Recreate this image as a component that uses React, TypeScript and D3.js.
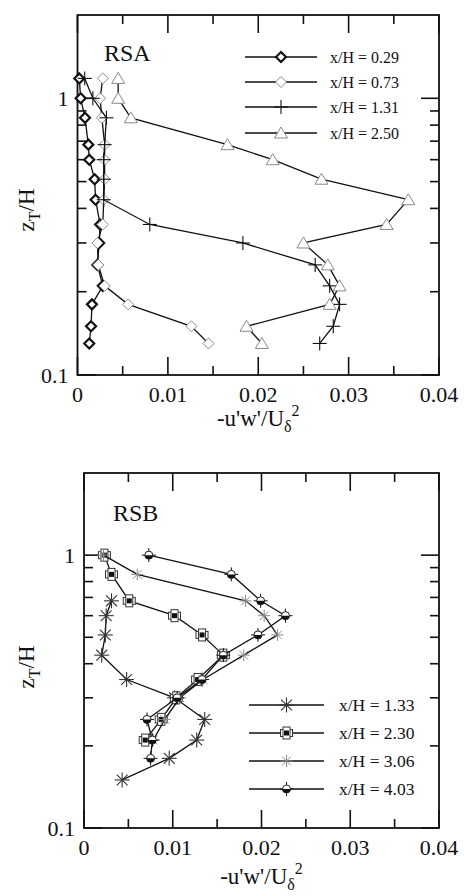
import React from 'react';
import * as d3 from 'd3';

const FONT = "'Liberation Serif', 'Times New Roman', Times, serif";

// ---------- Data: panel RSA ----------
const zA = [1.18, 1.0, 0.85, 0.68, 0.6, 0.51, 0.43, 0.35, 0.3, 0.25, 0.21, 0.18, 0.15, 0.13];
const rsa029 = [0.0002, 0.00035, 0.00083, 0.0012, 0.0013, 0.0019, 0.002, 0.0025, 0.0024, 0.0022, 0.0028, 0.0016, 0.0015, 0.0013];
const rsa073 = [0.0028, 0.0025, 0.0027, 0.003, 0.003, 0.003, 0.0029, 0.0028, 0.0022, 0.0023, 0.003, 0.0056, 0.0126, 0.0145];
const rsa131 = [0.0008, 0.0017, 0.0032, 0.003, 0.0029, 0.0029, 0.0029, 0.008, 0.0183, 0.0263, 0.0279, 0.029, 0.0283, 0.0268];
const rsa250 = [0.0045, 0.0045, 0.0059, 0.0166, 0.0216, 0.027, 0.0366, 0.0342, 0.025, 0.0277, 0.029, 0.0279, 0.0187, 0.0204];
const legendA = ['x/H = 0.29', 'x/H = 0.73', 'x/H = 1.31', 'x/H = 2.50'];

// ---------- Data: panel RSB ----------
const zB133 = [0.68, 0.6, 0.51, 0.43, 0.35, 0.3, 0.25, 0.21, 0.18, 0.15];
const rsb133 = [0.0031, 0.0025, 0.0024, 0.002, 0.0048, 0.0102, 0.0136, 0.0127, 0.0096, 0.0043];
const zB230 = [1.0, 0.85, 0.68, 0.6, 0.51, 0.43, 0.35, 0.3, 0.25, 0.21];
const rsb230 = [0.0023, 0.0031, 0.0051, 0.0102, 0.0133, 0.0157, 0.0128, 0.0104, 0.0087, 0.0069];
const zB306 = [1.0, 0.85, 0.68, 0.6, 0.51, 0.43, 0.35, 0.3, 0.25, 0.21];
const rsb306 = [0.0022, 0.006, 0.0182, 0.0203, 0.0218, 0.018, 0.0134, 0.0108, 0.0091, 0.0078];
const zB403 = [1.0, 0.85, 0.68, 0.6, 0.51, 0.43, 0.35, 0.3, 0.25, 0.21, 0.18];
const rsb403 = [0.0073, 0.0166, 0.0199, 0.0227, 0.0196, 0.0157, 0.0133, 0.0105, 0.0071, 0.0077, 0.0075];
const legendB = ['x/H = 1.33', 'x/H = 2.30', 'x/H = 3.06', 'x/H = 4.03'];

// ---------- Axes ----------
const xMajor = [0, 0.01, 0.02, 0.03, 0.04];
const xMajorLabels = ['0', '0.01', '0.02', '0.03', '0.04'];
const xMinor = [0.005, 0.015, 0.025, 0.035];
const yMajor = [0.1, 1];
const yMajorLabels = ['0.1', '1'];
const yMinor = [0.2, 0.3, 0.4, 0.5, 0.6, 0.7, 0.8, 0.9];

const GRAY = '#8a8a8a';

type MarkerFn = (cx: number, cy: number, key: string) => React.ReactNode;

const boldDiamond: MarkerFn = (cx, cy, k) => (
  <path key={k} d={`M${cx},${cy - 5}L${cx + 5},${cy}L${cx},${cy + 5}L${cx - 5},${cy}Z`} fill="white" stroke="#111" strokeWidth={2.2} />
);
const openDiamond: MarkerFn = (cx, cy, k) => (
  <path key={k} d={`M${cx},${cy - 5.5}L${cx + 5.5},${cy}L${cx},${cy + 5.5}L${cx - 5.5},${cy}Z`} fill="white" stroke={GRAY} strokeWidth={1} />
);
const plusMark: MarkerFn = (cx, cy, k) => (
  <g key={k} stroke="#111" strokeWidth={1.1}>
    <line x1={cx - 7} x2={cx + 7} y1={cy} y2={cy} />
    <line x1={cx} x2={cx} y1={cy - 7} y2={cy + 7} />
  </g>
);
const triangle: MarkerFn = (cx, cy, k) => (
  <path key={k} d={`M${cx},${cy - 6}L${cx + 6.5},${cy + 5}L${cx - 6.5},${cy + 5}Z`} fill="white" stroke={GRAY} strokeWidth={1} />
);
const asterisk = (color: string, r: number, w: number): MarkerFn => (cx, cy, k) => {
  const d = r * 0.72;
  return (
    <g key={k} stroke={color} strokeWidth={w}>
      <line x1={cx - r} x2={cx + r} y1={cy} y2={cy} />
      <line x1={cx} x2={cx} y1={cy - r} y2={cy + r} />
      <line x1={cx - d} x2={cx + d} y1={cy - d} y2={cy + d} />
      <line x1={cx - d} x2={cx + d} y1={cy + d} y2={cy - d} />
    </g>
  );
};
const crossSquare: MarkerFn = (cx, cy, k) => (
  <g key={k}>
    <rect x={cx - 6} y={cy - 3.5} width={12} height={7} fill="white" stroke="#333" strokeWidth={1} />
    <rect x={cx - 3.5} y={cy - 6} width={7} height={12} fill="white" stroke="#333" strokeWidth={1} />
    <rect x={cx - 2.5} y={cy - 2.5} width={5} height={5} fill="#111" />
  </g>
);
const halfCircle: MarkerFn = (cx, cy, k) => (
  <g key={k}>
    <line x1={cx - 7} x2={cx + 7} y1={cy} y2={cy} stroke="#111" strokeWidth={1} />
    <line x1={cx} x2={cx} y1={cy - 7} y2={cy + 7} stroke="#111" strokeWidth={1} />
    <circle cx={cx} cy={cy} r={4} fill="white" stroke="#222" strokeWidth={1} />
    <path d={`M${cx - 4},${cy}A4,4 0 0 0 ${cx + 4},${cy}Z`} fill="#111" />
  </g>
);

type Series = { xs: number[]; zs: number[]; marker: MarkerFn; lineColor: string; legendMarker: MarkerFn };

type PanelProps = {
  id: string;
  left: number; right: number; top: number; bottom: number;
  label: string; labelX: number; labelY: number;
  series: Series[];
  legend: string[];
  legLineX0: number; legLineX1: number; legTextX: number; legRows: number[]; legFont: number;
  titleY: number; yTitleY: number;
};

function Panel(p: PanelProps) {
  const x = d3.scaleLinear().domain([0, 0.04]).range([p.left, p.right]);
  const y = d3.scaleLog().domain([0.1, 2]).range([p.bottom, p.top]);
  const line = d3.line<[number, number]>().x(d => x(d[0])).y(d => y(d[1]));
  const MAJ = 18, MIN = 9;
  const tickStroke = { stroke: '#111', strokeWidth: 1.6 };
  return (
    <g>
      <rect x={p.left} y={p.top} width={p.right - p.left} height={p.bottom - p.top} fill="none" stroke="#111" strokeWidth={1.8} />
      {xMajor.map((v, i) => (
        <g key={'xm' + i} {...tickStroke}>
          <line x1={x(v)} x2={x(v)} y1={p.bottom} y2={p.bottom - MAJ} />
          <line x1={x(v)} x2={x(v)} y1={p.top} y2={p.top + MAJ} />
        </g>
      ))}
      {xMinor.map((v, i) => (
        <g key={'xn' + i} {...tickStroke}>
          <line x1={x(v)} x2={x(v)} y1={p.bottom} y2={p.bottom - MIN} />
          <line x1={x(v)} x2={x(v)} y1={p.top} y2={p.top + MIN} />
        </g>
      ))}
      {yMajor.map((v, i) => (
        <g key={'ym' + i} {...tickStroke}>
          <line x1={p.left} x2={p.left + MAJ} y1={y(v)} y2={y(v)} />
          <line x1={p.right} x2={p.right - MAJ} y1={y(v)} y2={y(v)} />
        </g>
      ))}
      {yMinor.map((v, i) => (
        <g key={'yn' + i} {...tickStroke}>
          <line x1={p.left} x2={p.left + MIN} y1={y(v)} y2={y(v)} />
          <line x1={p.right} x2={p.right - MIN} y1={y(v)} y2={y(v)} />
        </g>
      ))}
      {xMajor.map((v, i) => (
        <text key={'xl' + i} x={x(v)} y={p.bottom + 27} textAnchor="middle" fontSize={22} fontFamily={FONT} fill="#111">{xMajorLabels[i]}</text>
      ))}
      {yMajor.map((v, i) => (
        <text key={'yl' + i} x={p.left - 9} y={y(v) + 8} textAnchor="end" fontSize={22} fontFamily={FONT} fill="#111">{yMajorLabels[i]}</text>
      ))}
      <text x={(p.left + p.right) / 2} y={p.titleY} textAnchor="middle" fontSize={23} fontFamily={FONT} fill="#111">
        -u'w'/U<tspan fontSize={16} dy={6}>δ</tspan><tspan fontSize={16} dy={-16}>2</tspan>
      </text>
      <text transform={`translate(34,${p.yTitleY}) rotate(-90)`} textAnchor="middle" fontSize={23} fontFamily={FONT} fill="#111">
        z<tspan fontSize={16} dy={6}>T</tspan><tspan dy={-6}>/H</tspan>
      </text>
      <text x={p.labelX} y={p.labelY} fontSize={24} fontFamily={FONT} fill="#111">{p.label}</text>
      {p.series.map((s, si) => {
        const pts: [number, number][] = s.xs.map((v, i) => [v, s.zs[i]]);
        return (
          <g key={'s' + si}>
            <path d={line(pts) || ''} fill="none" stroke={s.lineColor} strokeWidth={1.3} />
            {pts.map((d, i) => s.marker(x(d[0]), y(d[1]), `m${si}-${i}`))}
          </g>
        );
      })}
      {p.legend.map((t, i) => {
        const ry = p.legRows[i];
        const s = p.series[i];
        return (
          <g key={'lg' + i}>
            <line x1={p.legLineX0} x2={p.legLineX1} y1={ry} y2={ry} stroke="#111" strokeWidth={1.3} />
            {s.legendMarker((p.legLineX0 + p.legLineX1) / 2, ry, 'lm' + i)}
            <text x={p.legTextX} y={ry + 6} fontSize={p.legFont} fontFamily={FONT} fill="#111">{t}</text>
          </g>
        );
      })}
    </g>
  );
}

export default function App() {
  const seriesA: Series[] = [
    { xs: rsa029, zs: zA, marker: boldDiamond, lineColor: '#111', legendMarker: boldDiamond },
    { xs: rsa073, zs: zA, marker: openDiamond, lineColor: '#111', legendMarker: openDiamond },
    { xs: rsa131, zs: zA, marker: plusMark, lineColor: '#111', legendMarker: plusMark },
    { xs: rsa250, zs: zA, marker: triangle, lineColor: '#111', legendMarker: triangle },
  ];
  const seriesB: Series[] = [
    { xs: rsb133, zs: zB133, marker: asterisk('#333', 7.5, 1.1), lineColor: '#111', legendMarker: asterisk('#333', 7.5, 1.1) },
    { xs: rsb230, zs: zB230, marker: crossSquare, lineColor: '#111', legendMarker: crossSquare },
    { xs: rsb306, zs: zB306, marker: asterisk(GRAY, 6, 1), lineColor: '#111', legendMarker: asterisk(GRAY, 6, 1) },
    { xs: rsb403, zs: zB403, marker: halfCircle, lineColor: '#111', legendMarker: halfCircle },
  ];
  return (
    <svg width={464} height={896} style={{ position: 'absolute', left: 0, top: 0, background: 'white' }}>
      <rect x={0} y={0} width={464} height={896} fill="white" />
      <Panel id="A" left={77.5} right={439} top={15} bottom={375}
        label="RSA" labelX={104} labelY={61}
        series={seriesA} legend={legendA}
        legLineX0={245} legLineX1={317} legTextX={330} legRows={[57, 82, 107, 133]} legFont={16}
        titleY={426} yTitleY={210} />
      <Panel id="B" left={84} right={439} top={473} bottom={828}
        label="RSB" labelX={113} labelY={521}
        series={seriesB} legend={legendB}
        legLineX0={249} legLineX1={324} legTextX={339} legRows={[705, 733, 761, 789]} legFont={17.5}
        titleY={884} yTitleY={667} />
    </svg>
  );
}
